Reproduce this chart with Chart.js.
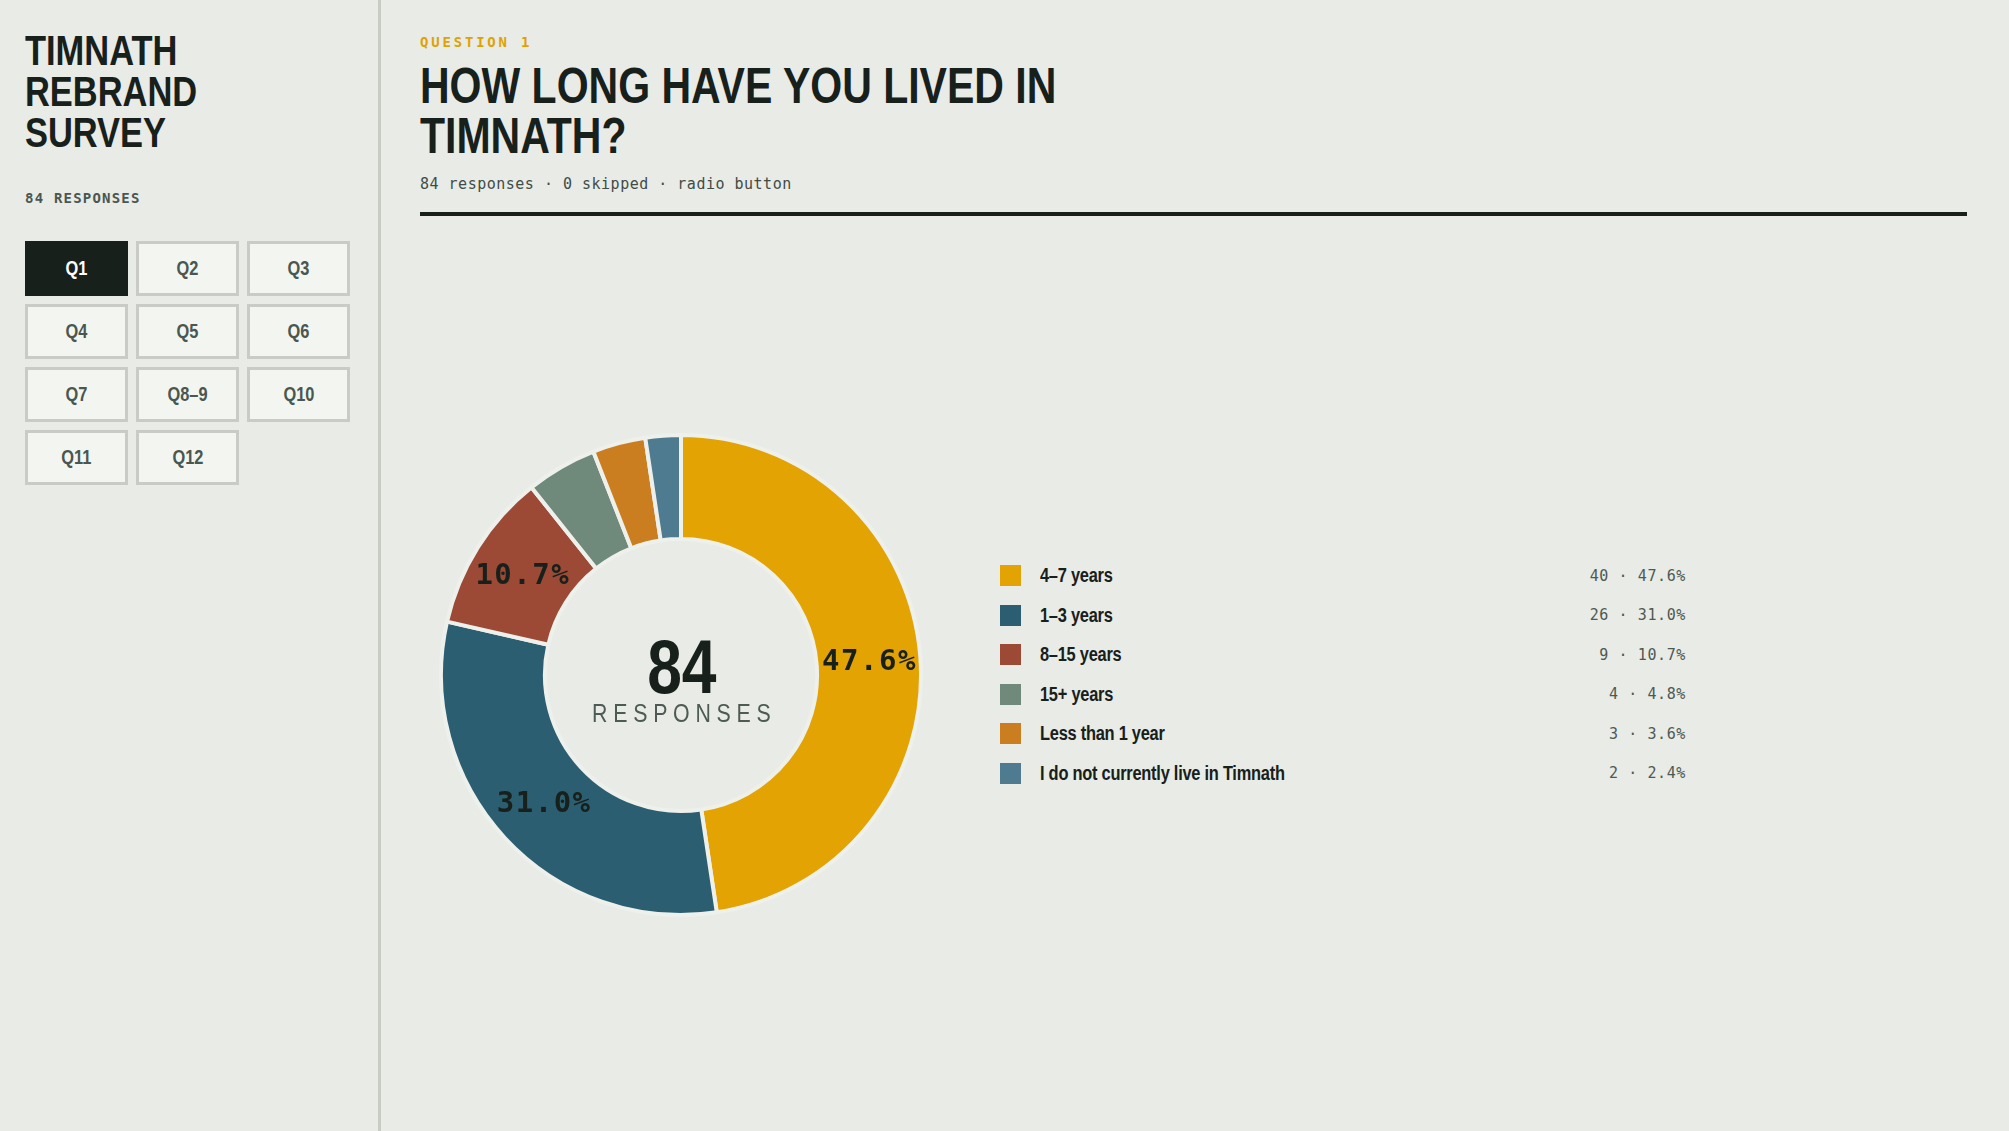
<!DOCTYPE html>
<html>
<head>
<meta charset="utf-8">
<script src="https://cdn.jsdelivr.net/npm/chart.js@4"></script>
<style>
  html, body { margin: 0; padding: 0; }
  body {
    width: 2009px; height: 1131px; position: relative; overflow: hidden;
    background: #e8ebe6; color: #18201b;
    font-family: "Liberation Sans", Arial, sans-serif;
  }
  /* no narrow face installed, so squeeze Liberation Sans */
  .cond { display: inline-block; transform: scaleX(0.82); transform-origin: left center; white-space: nowrap; }
  .mono { font-family: "DejaVu Sans Mono", "Liberation Mono", monospace; }
  #sidebar { position: absolute; left: 0; top: 0; width: 378px; height: 1131px; border-right: 3px solid #c8ccc5; }
  #brand { position: absolute; left: 25px; top: 30px; font-size: 42px; line-height: 41px; font-weight: bold; transform-origin: left top; }
  #count { position: absolute; left: 25px; top: 191px; font-size: 14px; line-height: 14px; color: #4a5650; letter-spacing: 1.2px; font-weight: bold; }
  .qbtn {
    position: absolute; box-sizing: border-box; width: 103px; height: 55px;
    background: #f3f5f1; border: 3px solid #c9ccc6; color: #4a5650;
    font-weight: bold; font-size: 20px; display: flex; align-items: center; justify-content: center;
  }
  .qbtn span { display: inline-block; transform: scaleX(0.82); }
  .qbtn.active { background: #18201b; border-color: #18201b; color: #ffffff; }
  #qlabel { position: absolute; left: 420px; top: 35px; font-size: 14px; line-height: 14px; color: #e0a200; letter-spacing: 2.8px; font-weight: bold; }
  #title { position: absolute; left: 420px; top: 61px; font-size: 50px; line-height: 50px; font-weight: bold; transform-origin: left top; }
  #meta { position: absolute; left: 420px; top: 177px; font-size: 15px; line-height: 15px; color: #414c46; letter-spacing: 0.5px; }
  #rule { position: absolute; left: 420px; top: 212px; width: 1547px; height: 4px; background: #18201b; }
  #chartBox { position: absolute; left: 439px; top: 433px; width: 484px; height: 484px; }
  #legend { position: absolute; left: 1000px; top: 556px; width: 686px; }
  .row { height: 39.5px; display: flex; align-items: center; }
  .sw { width: 21px; height: 21px; flex: none; }
  .lab { margin-left: 19px; font-size: 20px; font-weight: bold; letter-spacing: -0.3px; flex: 1; }
  .val { font-size: 15px; color: #4e5953; letter-spacing: 0.6px; text-align: right; }
</style>
</head>
<body>
<div id="sidebar">
  <div id="brand" class="cond">TIMNATH<br>REBRAND<br>SURVEY</div>
  <div id="count" class="mono">84 RESPONSES</div>
  <div id="buttons"></div>
</div>
<div id="qlabel" class="mono">QUESTION 1</div>
<div id="title" class="cond">HOW LONG HAVE YOU LIVED IN<br>TIMNATH?</div>
<div id="meta" class="mono">84 responses · 0 skipped · radio button</div>
<div id="rule"></div>
<div id="chartBox"><canvas id="donut" width="484" height="484"></canvas></div>
<div id="legend"></div>

<script>
  const categories = [
    "4–7 years",
    "1–3 years",
    "8–15 years",
    "15+ years",
    "Less than 1 year",
    "I do not currently live in Timnath",
  ];
  const counts = [40, 26, 9, 4, 3, 2];
  const colors = ["#e3a302", "#2c5e71", "#9c4a35", "#6f8a7a", "#cb7e20", "#4f7b91"];
  const questions = ["Q1", "Q2", "Q3", "Q4", "Q5", "Q6", "Q7", "Q8–9", "Q10", "Q11", "Q12"];

  const total = counts.reduce((a, b) => a + b, 0);
  const percents = counts.map((c) => (c / total) * 100);

  const SQUEEZE = 0.82;

  // sidebar buttons, 3 per row
  function createButtons() {
    const box = document.getElementById("buttons");
    questions.forEach((q, i) => {
      const b = document.createElement("div");
      b.className = "qbtn" + (i === 0 ? " active" : "");
      b.innerHTML = `<span>${q}</span>`;
      b.style.left = 25 + (i % 3) * 111 + "px";
      b.style.top = 241 + Math.floor(i / 3) * 63 + "px";
      box.appendChild(b);
    });
  }

  function createLegend() {
    const legend = document.getElementById("legend");
    categories.forEach((cat, i) => {
      const row = document.createElement("div");
      row.className = "row";
      row.innerHTML =
        `<div class="sw" style="background:${colors[i]}"></div>` +
        `<div class="lab"><span class="cond">${cat}</span></div>` +
        `<div class="val mono">${counts[i]} · ${percents[i].toFixed(1)}%</div>`;
      legend.appendChild(row);
    });
  }

  // percent labels on the big slices + the total in the hole
  const donutText = {
    id: "donutText",
    afterDatasetsDraw(chart) {
      const ctx = chart.ctx;
      const meta = chart.getDatasetMeta(0);
      ctx.save();
      ctx.fillStyle = "#18201b";
      ctx.textAlign = "center";
      ctx.textBaseline = "middle";
      ctx.font = 'bold 29px "DejaVu Sans Mono"';
      ctx.letterSpacing = "1.5px";
      meta.data.forEach((arc, i) => {
        if (percents[i] < 10) return;
        const p = arc.tooltipPosition();
        ctx.fillText(percents[i].toFixed(1) + "%", p.x + 1, p.y + 2);
      });

      const cx = (chart.chartArea.left + chart.chartArea.right) / 2;
      const cy = (chart.chartArea.top + chart.chartArea.bottom) / 2;
      ctx.translate(cx, cy);
      ctx.scale(SQUEEZE, 1);
      ctx.textBaseline = "alphabetic";
      ctx.letterSpacing = "0px";
      ctx.font = 'bold 76px "Liberation Sans", Arial, sans-serif';
      ctx.fillText(String(total), 1, 18);
      ctx.letterSpacing = "7px";
      ctx.fillStyle = "#4e5a54";
      ctx.font = '26px "Liberation Sans", Arial, sans-serif';
      ctx.fillText("RESPONSES", 4, 47);
      ctx.restore();
    },
  };

  function createChart() {
    const ctx = document.getElementById("donut").getContext("2d");
    new Chart(ctx, {
      type: "doughnut",
      data: {
        labels: categories,
        datasets: [
          {
            data: counts,
            backgroundColor: colors,
            borderColor: "#eef0ec",
            borderWidth: 4,
            hoverOffset: 0,
          },
        ],
      },
      options: {
        responsive: false,
        animation: false,
        cutout: "56.7%",
        layout: { padding: 0 },
        plugins: {
          legend: { display: false },
          tooltip: { enabled: false },
        },
      },
      plugins: [donutText],
    });
  }

  createButtons();
  createLegend();
  createChart();
</script>
</body>
</html>
